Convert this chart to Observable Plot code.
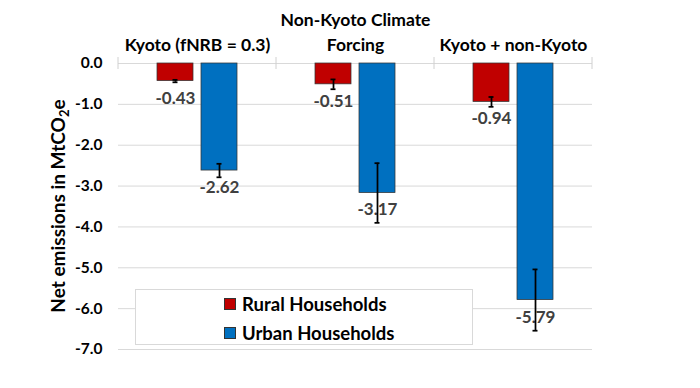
<!DOCTYPE html>
<html>
<head>
<meta charset="utf-8">
<script src="https://cdn.jsdelivr.net/npm/d3@7"></script>
<script src="https://cdn.jsdelivr.net/npm/@observablehq/plot@0.6"></script>
<style>
  html, body { margin: 0; padding: 0; background: #fff; }
  #wrap { position: relative; width: 700px; height: 388px; font-family: Lato, "Open Sans", sans-serif; }
  #legend { position: absolute; left: 135px; top: 289px; width: 338px; height: 56px; box-sizing: border-box;
            background: #fff; border: 1px solid #d9d9d9; }
  .item { position: absolute; left: 88px; display: flex; align-items: center; font-weight: bold; font-size: 18.5px; line-height: 22px; color: #000; }
  .sw { width: 10px; height: 10px; border: 1px solid #333; margin-right: 6px; }
</style>
</head>
<body>
<div id="wrap"></div>
<script>
const categories = ["Kyoto (fNRB = 0.3)", "Non-Kyoto Climate\nForcing", "Kyoto + non-Kyoto"];
const series = ["Rural Households", "Urban Households"];
const colors = ["#C00000", "#0070C0"];
const rural = [-0.43, -0.51, -0.94];
const urban = [-2.62, -3.17, -5.79];
const ruralErr = [0.03, 0.12, 0.12];
const urbanErr = [0.165, 0.73, 0.75];
const yTicks = [0, -1, -2, -3, -4, -5, -6, -7];

const data = categories.flatMap((c, i) => [
  {cat: c, series: series[0], value: rural[i], err: ruralErr[i]},
  {cat: c, series: series[1], value: urban[i], err: urbanErr[i]}
]);

const plot = Plot.plot({
  width: 700, height: 388,
  marginLeft: 118, marginRight: 108, marginTop: 63, marginBottom: 39,
  style: {fontFamily: "Lato, 'Open Sans', sans-serif", background: "#fff"},
  fx: {domain: categories, padding: 0},
  x: {domain: series, paddingInner: 0.18, paddingOuter: 0.885, axis: null},
  y: {domain: [-7, 0]},
  color: {domain: series, range: colors},
  marks: [
    Plot.gridY(yTicks, {stroke: "#d9d9d9", strokeOpacity: 1}),
    Plot.axisY(yTicks, {tickSize: 0, tickPadding: 16, tickFormat: d => d.toFixed(1), fontSize: 15.5, fontWeight: "bold", fill: "#000", label: null}),
    Plot.axisFx({anchor: "top", tickSize: 0, tickPadding: 13, fontSize: 17.5, fontWeight: "bold", lineHeight: 1.42, fill: "#000", label: null}),
    Plot.barY(data, {fx: "cat", x: "series", y: "value", fill: "series", stroke: "#333", strokeWidth: 0.75}),
    Plot.text(data, {fx: "cat", x: "series", y: "value", text: d => d.value.toFixed(2), dy: 17, fill: "#404040", fontWeight: "bold", fontSize: 17}),
    Plot.ruleX(data, {fx: "cat", x: "series", y1: d => d.value - d.err, y2: d => d.value + d.err, stroke: "#000", strokeWidth: 1.75}),
    Plot.tickY(data, {fx: "cat", x: "series", y: d => d.value - d.err, stroke: "#000", strokeWidth: 1.75, insetLeft: 15.5, insetRight: 15.5}),
    Plot.tickY(data, {fx: "cat", x: "series", y: d => d.value + d.err, stroke: "#000", strokeWidth: 1.75, insetLeft: 15.5, insetRight: 15.5})
  ]
});

// category boundary ticks on the zero line, from the library's scales
const fx = plot.scale("fx");
const ys = plot.scale("y");
const svg = d3.select(plot);
const y0 = ys.apply(0);
const edges = categories.map(c => fx.apply(c)).concat([fx.apply(categories[categories.length - 1]) + fx.bandwidth]);
svg.append("g").selectAll("line").data(edges).join("line")
  .attr("x1", d => d).attr("x2", d => d).attr("y1", y0 - 6).attr("y2", y0 + 6)
  .attr("stroke", "#d0d0d0");

// y-axis title with subscript
const yMid = (ys.apply(0) + ys.apply(-7)) / 2;
const t = svg.append("text")
  .attr("transform", `translate(65,${yMid}) rotate(-90)`)
  .attr("text-anchor", "middle")
  .attr("font-size", 19).attr("font-weight", "bold").attr("fill", "#000");
t.append("tspan").text("Net emissions in MtCO");
t.append("tspan").attr("font-size", 13).attr("dy", 4).text("2");
t.append("tspan").attr("dy", -4).text("e");

const wrap = document.getElementById("wrap");
wrap.appendChild(plot);

// legend
const leg = document.createElement("div");
leg.id = "legend";
series.forEach((s, i) => {
  const it = document.createElement("div");
  it.className = "item";
  it.style.top = (i === 0 ? 3 : 32) + "px";
  const sw = document.createElement("span");
  sw.className = "sw";
  sw.style.background = colors[i];
  it.appendChild(sw);
  it.appendChild(document.createTextNode(s));
  leg.appendChild(it);
});
wrap.appendChild(leg);
</script>
</body>
</html>
